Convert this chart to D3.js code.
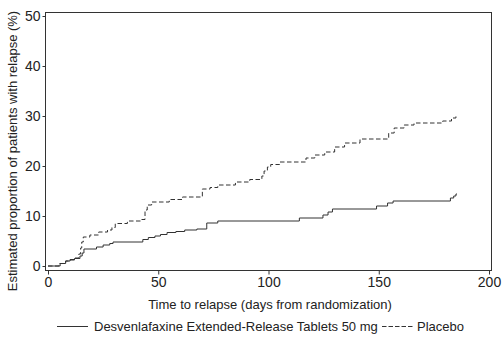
<!DOCTYPE html>
<html>
<head>
<meta charset="utf-8">
<script src="https://cdn.jsdelivr.net/npm/d3@7"></script>
<style>
  body { margin: 0; background: #fff; }
  text { font-family: Arial, "Liberation Sans", sans-serif; fill: #222; }
</style>
</head>
<body>
<svg id="chart"></svg>
<script>
const xTicks = [0, 50, 100, 150, 200];
const yTicks = [0, 10, 20, 30, 40, 50];

// [day, estimated % relapsed]
const desvenlafaxine = [
  [0, 0], [5.5, 0.5], [8, 1.0], [10, 1.2], [12, 1.5], [14.5, 2.0], [15.5, 2.6],
  [16.3, 3.4], [22, 3.8], [25, 4.2], [28, 4.5], [29.5, 4.8], [43, 5.3],
  [45.5, 5.7], [48.5, 6.0], [51, 6.3], [54, 6.7], [58, 6.9], [62, 7.2],
  [67.5, 7.4], [72, 8.6], [77, 9.0], [114, 9.6], [124.7, 10.2], [127, 10.8],
  [129, 11.4], [149, 12.0], [154, 12.6], [156.5, 13.0], [182.5, 13.6],
  [184, 14.0], [185, 14.4], [185.5, 14.4]
];

const placebo = [
  [0, 0], [5, 0.5], [8, 1.0], [10, 1.3], [12, 1.6], [14, 2.4], [14.8, 3.6],
  [15.3, 4.8], [16, 5.8], [19, 6.2], [23, 6.8], [27, 7.2], [29, 7.7],
  [30.5, 8.5], [36, 9.0], [42, 9.3], [44, 11.2], [45, 12.2], [47, 12.8],
  [55, 13.3], [61, 13.8], [70, 15.4], [73.5, 15.7], [77, 16.2], [85, 16.8],
  [91.5, 17.3], [97, 18.0], [98, 19.0], [99.5, 19.8], [101, 20.3], [105, 20.8],
  [117, 21.6], [121, 22.2], [125.5, 22.8], [130, 23.8], [134.5, 24.6],
  [141.5, 25.4], [154.5, 26.6], [157, 27.6], [161.5, 28.2], [166, 28.6],
  [179, 29.0], [183, 29.6], [185, 30.2], [185.5, 30.2]
];

const width = 504, height = 338;
const frame = {left: 45, right: 491, top: 12, bottom: 270};

const svg = d3.select('#chart')
  .attr('width', width)
  .attr('height', height);

const x = d3.scaleLinear().domain([0, 200]).range([48, 489]);
const y = d3.scaleLinear().domain([0, 50]).range([266, 16]);

// plot region outline
svg.append('rect')
  .attr('x', frame.left + 0.5)
  .attr('y', frame.top + 0.5)
  .attr('width', frame.right - frame.left)
  .attr('height', frame.bottom - frame.top)
  .attr('fill', 'none')
  .attr('stroke', '#333')
  .attr('stroke-width', 1);

const xAxis = svg.append('g')
  .attr('transform', 'translate(0,' + (frame.bottom + 0.5) + ')')
  .call(d3.axisBottom(x).tickValues(xTicks).tickSize(4).tickPadding(3).tickSizeOuter(0));
xAxis.select('.domain').remove();
xAxis.selectAll('line').attr('stroke', '#333');
xAxis.selectAll('text').style('font-size', '14px').attr('fill', '#222');

const yAxis = svg.append('g')
  .attr('transform', 'translate(' + (frame.left + 0.5) + ',0)')
  .call(d3.axisLeft(y).tickValues(yTicks).tickSize(3).tickPadding(2).tickSizeOuter(0));
yAxis.select('.domain').remove();
yAxis.selectAll('line').attr('stroke', '#333');
yAxis.selectAll('text').style('font-size', '14px').attr('fill', '#222');

const line = d3.line()
  .x(d => x(d[0]))
  .y(d => y(d[1]))
  .curve(d3.curveStepAfter);

svg.append('path')
  .datum(desvenlafaxine)
  .attr('d', line)
  .attr('fill', 'none')
  .attr('stroke', '#333')
  .attr('stroke-width', 1);

svg.append('path')
  .datum(placebo)
  .attr('d', line)
  .attr('fill', 'none')
  .attr('stroke', '#333')
  .attr('stroke-width', 1)
  .attr('stroke-dasharray', '4.5,2.5');

svg.append('text')
  .attr('x', 270)
  .attr('y', 309)
  .attr('text-anchor', 'middle')
  .style('font-size', '13px')
  .text('Time to relapse (days from randomization)');

svg.append('text')
  .attr('transform', 'translate(17,151) rotate(-90)')
  .attr('text-anchor', 'middle')
  .style('font-size', '13px')
  .text('Estimated proportion of patients with relapse (%)');

// legend
const legend = svg.append('g');
legend.append('line')
  .attr('x1', 57).attr('x2', 88)
  .attr('y1', 326.5).attr('y2', 326.5)
  .attr('stroke', '#333');
legend.append('text')
  .attr('x', 94).attr('y', 331)
  .style('font-size', '13px')
  .text('Desvenlafaxine Extended-Release Tablets 50 mg');
legend.append('line')
  .attr('x1', 382).attr('x2', 413)
  .attr('y1', 326.5).attr('y2', 326.5)
  .attr('stroke', '#333')
  .attr('stroke-dasharray', '4.5,2');
legend.append('text')
  .attr('x', 417).attr('y', 331)
  .style('font-size', '13px')
  .text('Placebo');
</script>
</body>
</html>
